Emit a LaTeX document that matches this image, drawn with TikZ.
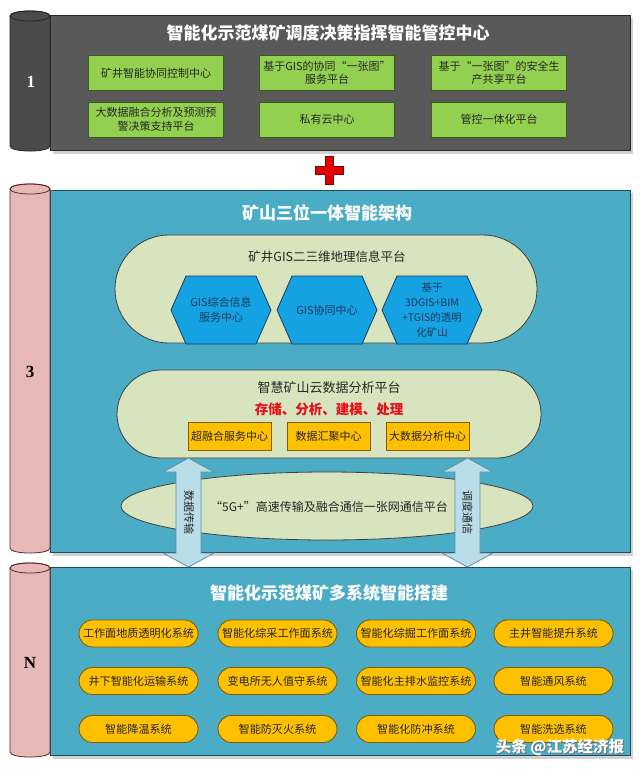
\documentclass[tikz,border=0pt]{standalone}
\usepackage{fontspec}
\setmainfont{Noto Sans CJK SC}
\newfontfamily\numfont{Liberation Serif}
\usetikzlibrary{calc}
\definecolor{pgrey}{HTML}{595959}
\definecolor{cgrey}{HTML}{4A4A4A}
\definecolor{pblue}{HTML}{4BACC6}
\definecolor{bblue}{HTML}{1F4E5F}
\definecolor{pink}{HTML}{E6B9B8}
\definecolor{pinkb}{HTML}{632523}
\definecolor{gbox}{HTML}{92D050}
\definecolor{gboxb}{HTML}{3D5C1A}
\definecolor{obox}{HTML}{FFC000}
\definecolor{oboxb}{HTML}{7F6000}
\definecolor{beige}{HTML}{D7E4BD}
\definecolor{hexb}{HTML}{14A2E2}
\definecolor{hexd}{HTML}{1F3A5F}
\definecolor{arr}{HTML}{B9DDE9}
\definecolor{arrb}{HTML}{5A8EA0}
\definecolor{redt}{HTML}{E8101A}
\begin{document}
\begin{tikzpicture}[x=1pt,y=-1pt,
  title/.style={text=white,font=\fontsize{17}{20}\selectfont\bfseries},
  num/.style={font=\numfont\fontsize{17}{20}\selectfont\bfseries},
  gbox/.style={draw=gboxb,line width=1pt,fill=gbox,minimum width=135,minimum height=35,inner sep=1pt,align=center,text=black!85,font=\fontsize{11}{13.5}\selectfont},
  obox/.style={draw=oboxb,line width=0.8pt,fill=obox,minimum width=83,minimum height=28,inner sep=1pt,text=black!85,font=\fontsize{11}{13}\selectfont},
  pill/.style={draw=oboxb,line width=0.9pt,fill=obox,minimum width=119,minimum height=27,rounded corners=13.5,inner sep=1pt,text=black!85,font=\fontsize{11.1}{13}\selectfont},
  hextxt/.style={align=center,text=hexd,font=\fontsize{11}{15}\selectfont},
  plain/.style={text=black!85,font=\fontsize{12.5}{15}\selectfont},
  vlab/.style={rotate=-90,text=black!85,font=\fontsize{11}{13}\selectfont},
  shadowp/.style={fill=black!18},
  beigeshape/.style={fill=beige,draw=black!75,line width=0.8pt},
  arrowshape/.style={fill=arr,draw=arrb,line width=0.8pt}
]
\useasboundingbox (0,0) rectangle (640,769);
\fill[white] (0,0) rectangle (640,769);

% ---------- Panel 1 ----------
\fill[shadowp] (53,18) rectangle (633,154);
\filldraw[fill=pgrey,draw=black!85,line width=0.8pt] (50,15) rectangle (630,150);
\filldraw[fill=cgrey,draw=black!85,line width=0.8pt]
  (10,16) -- (10,146) .. controls (10,152.7) and (50,152.7) .. (50,146)
  -- (50,16) .. controls (50,9.3) and (10,9.3) .. (10,16) -- cycle;
\draw[black!85,line width=0.8pt] (30,16) ellipse [x radius=20,y radius=5];
\node[num,text=white] (n1) at (31,82) {1};
\node[title] (t1) at (328,33) {智能化示范煤矿调度决策指挥智能管控中心};
\node[gbox] (g1) at (156,73) {矿井智能协同控制中心};
\node[gbox] (g2) at (327,73) {基于GIS的协同“一张图”\\服务平台};
\node[gbox] (g3) at (499,73) {基于“一张图”的安全生\\产共享平台};
\node[gbox] (g4) at (156,119.5) {大数据融合分析及预测预\\警决策支持平台};
\node[gbox] (g5) at (327,119.5) {私有云中心};
\node[gbox] (g6) at (499,119.5) {管控一体化平台};

% ---------- plus ----------
\filldraw[fill=red!90!black,draw=red!50!black,line width=0.6pt]
  (325,156) -- (333,156) -- (333,166) -- (343,166) -- (343,174) -- (333,174)
  -- (333,184) -- (325,184) -- (325,174) -- (315,174) -- (315,166) -- (325,166) -- cycle;

% ---------- Panel 2 ----------
\fill[shadowp] (53,193) rectangle (633,556);
\filldraw[fill=pblue,draw=bblue,line width=0.8pt] (50,190) rectangle (630,552);
\filldraw[fill=pink,draw=pinkb,line width=0.8pt]
  (10,189) -- (10,548) .. controls (10,554.7) and (50,554.7) .. (50,548)
  -- (50,189) .. controls (50,182.3) and (10,182.3) .. (10,189) -- cycle;
\draw[pinkb,line width=0.8pt] (30,189) ellipse [x radius=20,y radius=5];
\node[num] (n3) at (30,372) {3};
\node[title] (t2) at (327,213) {矿山三位一体智能架构};

\filldraw[beigeshape,rounded corners=54] (115,235) rectangle (537,343);
\node[plain] (gis) at (327,257) {矿井GIS二三维地理信息平台};
\foreach \cx in {221,327,432}{
  \filldraw[fill=hexb,draw=hexd,line width=0.8pt]
    (\cx-50,310) -- (\cx-35,276) -- (\cx+35,276) -- (\cx+50,310) -- (\cx+35,344) -- (\cx-35,344) -- cycle;
}
\node[hextxt] (h1) at (221,310) {GIS综合信息\\服务中心};
\node[hextxt] (h2) at (327,310) {GIS协同中心};
\node[hextxt,font=\fontsize{10.5}{15}\selectfont] (h3) at (432,310) {基于\\3DGIS+BIM\\+TGIS的透明\\化矿山};

\filldraw[beigeshape,rounded corners=44] (117,370) rectangle (541,458);
\node[plain,font=\fontsize{13}{15}\selectfont] (cloud) at (329,388) {智慧矿山云数据分析平台};
\node[text=redt,font=\fontsize{13.5}{16}\selectfont\bfseries] (ops) at (329,409) {存储、分析、建模、处理};
\node[obox] (o1) at (229.5,436) {超融合服务中心};
\node[obox] (o2) at (328.5,436) {数据汇聚中心};
\node[obox] (o3) at (427.5,436) {大数据分析中心};

\filldraw[beigeshape] (327,506) ellipse [x radius=206,y radius=34];
\node[plain,font=\fontsize{12}{14}\selectfont] (net) at (329,507) {“5G+”高速传输及融合通信一张网通信平台};

% ---------- Panel N ----------
\fill[shadowp] (53,570) rectangle (633,759);
\filldraw[fill=pblue,draw=bblue,line width=0.8pt] (50,567) rectangle (630,755);
\filldraw[fill=pink,draw=pinkb,line width=0.8pt]
  (10,568) -- (10,752) .. controls (10,758.7) and (50,758.7) .. (50,752)
  -- (50,568) .. controls (50,561.3) and (10,561.3) .. (10,568) -- cycle;
\draw[pinkb,line width=0.8pt] (30,568) ellipse [x radius=20,y radius=5];
\node[num] (nN) at (30,663) {N};
\node[title] (t3) at (329,593) {智能化示范煤矿多系统智能搭建};

\node[pill] (s1) at (138.5,633.5) {工作面地质透明化系统};
\node[pill] (s2) at (277.5,633.5) {智能化综采工作面系统};
\node[pill] (s3) at (416,633.5) {智能化综掘工作面系统};
\node[pill] (s4) at (553.5,633.5) {主井智能提升系统};
\node[pill] (s5) at (138.5,681) {井下智能化运输系统};
\node[pill] (s6) at (277.5,681) {变电所无人值守系统};
\node[pill] (s7) at (416,681) {智能化主排水监控系统};
\node[pill] (s8) at (553.5,681) {智能通风系统};
\node[pill] (s9) at (138.5,729) {智能降温系统};
\node[pill] (s10) at (277.5,729) {智能防灭火系统};
\node[pill] (s11) at (416,729) {智能化防冲系统};
\node[pill] (s12) at (553.5,729) {智能洗选系统};

% ---------- double arrows ----------
\coordinate (aLt) at (188.5,458);
\coordinate (aLb) at (188.5,567);
\coordinate (aRt) at (467.5,458);
\coordinate (aRb) at (467.5,567);
\foreach \T/\B in {aLt/aLb,aRt/aRb}{
  \filldraw[arrowshape] (\T) -- ($(\T)+(25.5,14)$) -- ($(\T)+(12.5,14)$) -- ($(\B)+(12.5,-14)$)
    -- ($(\B)+(25.5,-14)$) -- (\B) -- ($(\B)+(-25.5,-14)$) -- ($(\B)+(-12.5,-14)$)
    -- ($(\T)+(-12.5,14)$) -- ($(\T)+(-25.5,14)$) -- cycle;
}
\node[vlab] (lab1) at (189,512) {数据传输};
\node[vlab] (lab2) at (467.5,512) {调度通信};

% ---------- watermark ----------
\node[text=black!55,font=\fontsize{15.5}{17}\selectfont\bfseries] (wms) at (561,748) {头条 @江苏经济报};
\node[text=white,font=\fontsize{15.5}{17}\selectfont\bfseries] (wm) at (560,747) {头条 @江苏经济报};
\end{tikzpicture}
\end{document}
